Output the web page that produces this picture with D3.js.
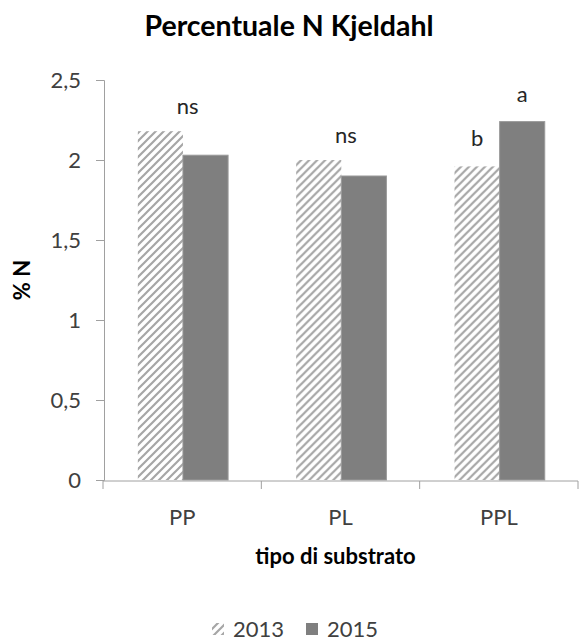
<!DOCTYPE html>
<html>
<head>
<meta charset="utf-8">
<script src="https://cdn.jsdelivr.net/npm/d3@7"></script>
<style>
  body { margin: 0; background: #fff; }
  svg { display: block; font-family: Lato, "Open Sans", sans-serif; }
</style>
</head>
<body>
<svg id="chart" width="579" height="642"></svg>
<script>
// ── data ──────────────────────────────────────────────
const categories = ['PP', 'PL', 'PPL'];
const seriesNames = ['2013', '2015'];
const values2013 = [2.18, 2.00, 1.96];
const values2015 = [2.03, 1.90, 2.24];
// significance letters: one over the whole group, or one over each bar
const groupLabels = ['ns', 'ns', null];
const labels2013 = [null, null, 'b'];
const labels2015 = [null, null, 'a'];
const yTicks = [0, 0.5, 1, 1.5, 2, 2.5];

const svg = d3.select('#chart');
const W = 579, H = 642;
const margin = { top: 80, right: 1, bottom: 162, left: 103 };
const innerW = W - margin.left - margin.right;
const innerH = H - margin.top - margin.bottom;

const fmt = v => String(v).replace('.', ',');

// hatch pattern for 2013
const defs = svg.append('defs');
const pat = defs.append('pattern').attr('id', 'hatch')
  .attr('patternUnits', 'userSpaceOnUse').attr('width', 8).attr('height', 8);
pat.append('path')
  .attr('d', 'M-2,2 l4,-4 M0,8 l8,-8 M6,10 l4,-4')
  .attr('stroke', '#a6a6a6').attr('stroke-width', 2.2).attr('fill', 'none');

const g = svg.append('g').attr('transform', `translate(${margin.left},${margin.top})`);

const x0 = d3.scaleBand().domain(categories).range([0, innerW]);
const x1 = d3.scaleBand().domain(seriesNames).range([x0.bandwidth() * 0.22, x0.bandwidth() * 0.79]);
const y = d3.scaleLinear().domain([0, 2.5]).range([innerH, 0]);

// ── y axis ──
const yAxis = g.append('g').attr('transform', 'translate(1,0)')
  .call(d3.axisLeft(y).tickValues(yTicks).tickFormat(fmt).tickSize(8).tickPadding(15));
yAxis.select('.domain').attr('stroke', '#a0a0a0');
yAxis.selectAll('.tick line').attr('stroke', '#a0a0a0');
yAxis.selectAll('.tick text').attr('fill', '#404040')
  .style('font-size', '22px').style('font-family', 'Lato');

// ── bars ──
const rows = categories.map((c, i) => ({
  cat: c,
  bars: [
    { s: '2013', v: values2013[i], lab: labels2013[i] },
    { s: '2015', v: values2015[i], lab: labels2015[i] }
  ],
  top: groupLabels[i]
}));

const grp = g.selectAll('.grp').data(rows).enter().append('g')
  .attr('class', 'grp').attr('transform', d => `translate(${x0(d.cat)},0)`);

grp.selectAll('rect').data(d => d.bars).enter().append('rect')
  .attr('x', d => x1(d.s))
  .attr('width', x1.bandwidth())
  .attr('y', d => y(d.v))
  .attr('height', d => innerH - y(d.v))
  .attr('fill', d => d.s === '2013' ? 'url(#hatch)' : '#7f7f7f')
  .attr('stroke', d => d.s === '2013' ? 'none' : '#9a9a9a')
  .attr('stroke-width', 1);

grp.selectAll('.barlab').data(d => d.bars.filter(b => b.lab)).enter().append('text')
  .attr('class', 'barlab')
  .attr('x', d => x1(d.s) + x1.bandwidth() / 2)
  .attr('y', d => y(d.v) - 20)
  .attr('text-anchor', 'middle')
  .attr('fill', '#262626').style('font-size', '22px')
  .text(d => d.lab);

grp.filter(d => d.top).append('text')
  .attr('x', x0.bandwidth() / 2 + 5.5)
  .attr('y', d => y(d3.max(d.bars, b => b.v)) - 17.5)
  .attr('text-anchor', 'middle')
  .attr('fill', '#262626').style('font-size', '22px')
  .text(d => d.top);

// ── x axis ──
const xAxis = g.append('g').attr('transform', `translate(0,${innerH + 1})`);
xAxis.append('line').attr('x1', 0).attr('x2', innerW).attr('stroke', '#a0a0a0');
xAxis.selectAll('.xt').data(d3.range(categories.length + 1)).enter().append('line')
  .attr('x1', i => i * x0.step()).attr('x2', i => i * x0.step())
  .attr('y1', 0).attr('y2', 8).attr('stroke', '#a0a0a0');
xAxis.selectAll('.xl').data(categories).enter().append('text')
  .attr('x', d => x0(d) + x0.bandwidth() / 2)
  .attr('y', 44)
  .attr('text-anchor', 'middle')
  .attr('fill', '#404040').style('font-size', '22px')
  .text(d => d);

// ── titles ──
svg.append('text').attr('x', 289).attr('y', 36).attr('text-anchor', 'middle')
  .attr('fill', '#000').style('font-size', '28.5px').style('font-weight', 'bold')
  .text('Percentuale N Kjeldahl');

svg.append('text').attr('transform', `translate(30,${margin.top + innerH / 2}) rotate(-90)`)
  .attr('text-anchor', 'middle').attr('fill', '#000')
  .style('font-size', '22px').style('font-weight', 'bold')
  .text('% N');

svg.append('text').attr('x', margin.left + innerW / 2 - 5).attr('y', 564).attr('text-anchor', 'middle')
  .attr('fill', '#000').style('font-size', '22px').style('font-weight', 'bold')
  .text('tipo di substrato');

// ── legend ──
const leg = svg.append('g').attr('transform', 'translate(212,629)');
const legItems = leg.selectAll('g').data(seriesNames).enter().append('g')
  .attr('transform', (d, i) => `translate(${i * 94},0)`);
legItems.append('rect').attr('x', 0).attr('y', -6).attr('width', 12).attr('height', 12)
  .attr('fill', d => d === '2013' ? 'url(#hatch)' : '#7f7f7f');
legItems.append('text').attr('x', 21).attr('y', 8)
  .attr('fill', '#404040').style('font-size', '22px')
  .text(d => d);
</script>
</body>
</html>
